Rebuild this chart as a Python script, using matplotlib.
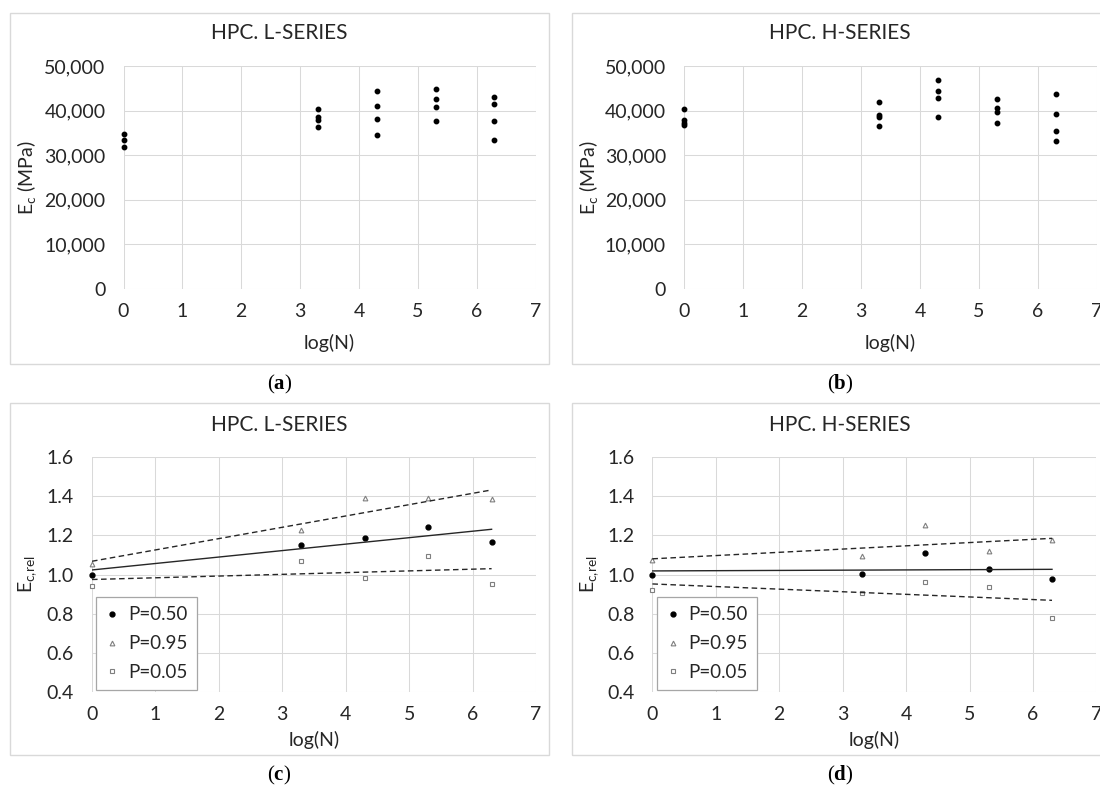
import numpy as np
import matplotlib

matplotlib.use("Agg")
import matplotlib.pyplot as plt
from matplotlib.patches import Rectangle

plt.rcParams["font.family"] = ["Lato", "DejaVu Sans"]
plt.rcParams["mathtext.fontset"] = "custom"
plt.rcParams["mathtext.bf"] = "Liberation Serif:bold"
plt.rcParams["mathtext.rm"] = "Lato"

W, H = 1100, 790

# --- data ---
# (a) absolute modulus, L-series
a_logn = [0, 0, 0, 3.3, 3.3, 3.3, 3.3, 4.3, 4.3, 4.3, 4.3,
          5.3, 5.3, 5.3, 5.3, 6.3, 6.3, 6.3, 6.3]
a_ec = [34800, 33400, 31800, 40300, 38600, 38000, 36400, 44300, 41000, 38200, 34600,
        44900, 42600, 40800, 37700, 43100, 41400, 37600, 33300]
# (b) absolute modulus, H-series
b_logn = [0, 0, 0, 0, 3.3, 3.3, 3.3, 3.3, 4.3, 4.3, 4.3, 4.3,
          5.3, 5.3, 5.3, 5.3, 6.3, 6.3, 6.3, 6.3]
b_ec = [40300, 37800, 37300, 36800, 42000, 39100, 38500, 36500, 46900, 44300, 42800, 38600,
        42600, 40600, 39600, 37300, 43700, 39300, 35500, 33200]

# (c)/(d) relative modulus per probability level
rel_logn = [0, 3.3, 4.3, 5.3, 6.3]
c_p50 = [1.00, 1.15, 1.188, 1.244, 1.167]
c_p95 = [1.056, 1.227, 1.392, 1.390, 1.383]
c_p05 = [0.940, 1.070, 0.983, 1.097, 0.951]
d_p50 = [1.00, 1.002, 1.111, 1.027, 0.976]
d_p95 = [1.073, 1.097, 1.254, 1.121, 1.174]
d_p05 = [0.923, 0.905, 0.963, 0.935, 0.778]

GRID = "#d9d9d9"
TXT = "#262626"
FS = 14


def px_rect(left, top, right, bottom):
    """Pixel box (from top-left) -> figure-fraction rect."""
    return [left / W, 1 - bottom / H, (right - left) / W, (bottom - top) / H]


def style_axes(ax, ylim, yticks, yfmt):
    ax.set_xlim(0, 7)
    ax.set_ylim(*ylim)
    ax.set_xticks(range(8))
    ax.set_yticks(yticks)
    ax.set_yticklabels([yfmt(v) for v in yticks])
    ax.grid(True, color=GRID, linewidth=0.75)
    ax.set_axisbelow(True)
    for s in ax.spines.values():
        s.set_visible(False)
    ax.tick_params(axis="both", length=0, labelsize=FS, colors=TXT)
    ax.tick_params(axis="y", pad=13)
    ax.tick_params(axis="x", pad=10)


fig = plt.figure(figsize=(W / 100, H / 100), dpi=100)

# light grey chart-area frames
for l, t, r, b in [(10, 13, 549, 364), (572, 13, 1108, 364),
                   (10, 403, 549, 755), (572, 403, 1108, 755)]:
    fig.patches.append(Rectangle((l / W, 1 - b / H), (r - l) / W, (b - t) / H,
                                 transform=fig.transFigure, fill=False,
                                 edgecolor="#d9d9d9", linewidth=1.0))

ax_a = fig.add_axes(px_rect(123.5, 66, 535.6, 289))
ax_b = fig.add_axes(px_rect(684, 66, 1097, 289))
ax_c = fig.add_axes(px_rect(92, 457, 536, 692))
ax_d = fig.add_axes(px_rect(652.4, 457, 1096.4, 692))

abs_ticks = np.arange(0, 50001, 10000)
for ax, x, y in [(ax_a, a_logn, a_ec), (ax_b, b_logn, b_ec)]:
    style_axes(ax, (0, 50000), abs_ticks, lambda v: f"{v:,.0f}")
    ax.plot(x, y, ls="none", marker="o", ms=3.2, color="black", clip_on=False)
    ax.set_ylabel(r"E$_\mathregular{c}$ (MPa)", fontsize=FS, color=TXT)
    ax.set_xlabel("log(N)", fontsize=FS, color=TXT)
ax_a.yaxis.set_label_coords((39 - 123.5) / 412, 0.5)
ax_b.yaxis.set_label_coords((601 - 684) / 413, 0.5)
ax_a.xaxis.set_label_coords(0.5, (289 - 334) / 223)
ax_b.xaxis.set_label_coords(0.5, (289 - 334) / 223)

rel_ticks = np.round(np.arange(0.4, 1.61, 0.2), 1)
x_fit = np.array([min(rel_logn), max(rel_logn)])
for ax, p50, p95, p05 in [(ax_c, c_p50, c_p95, c_p05), (ax_d, d_p50, d_p95, d_p05)]:
    style_axes(ax, (0.4, 1.6), rel_ticks, lambda v: f"{v:.1f}")
    ax.plot(rel_logn, p50, ls="none", marker="o", ms=3.5, color="black",
            label="P=0.50", clip_on=False)
    ax.plot(rel_logn, p95, ls="none", marker="^", ms=3.4, mfc="white",
            mec="#7f7f7f", mew=0.8, label="P=0.95", clip_on=False)
    ax.plot(rel_logn, p05, ls="none", marker="s", ms=3.2, mfc="white",
            mec="#7f7f7f", mew=0.8, label="P=0.05", clip_on=False)
    # linear trendlines through each probability level
    for vals, ls in [(p50, "-"), (p95, (0, (4, 2.5))), (p05, (0, (4, 2.5)))]:
        k, c0 = np.polyfit(rel_logn, vals, 1)
        ax.plot(x_fit, k * x_fit + c0, color="#262626", lw=1.0, ls=ls)
    ax.set_ylabel(r"E$_\mathregular{c{,}rel}$", fontsize=FS, color=TXT)
    ax.set_xlabel("log(N)", fontsize=FS, color=TXT)
    leg = ax.legend(loc="lower left", bbox_to_anchor=(0.010, 0.008), borderaxespad=0,
                    fontsize=13.5, frameon=True, fancybox=False, numpoints=1,
                    handlelength=0.7, handletextpad=0.5, labelspacing=0.62,
                    borderpad=0.5, labelcolor=TXT)
    leg.get_frame().set_edgecolor("#a6a6a6")
    leg.get_frame().set_linewidth(0.9)
    leg.get_frame().set_alpha(1)
ax_c.yaxis.set_label_coords((39 - 92) / 444, 0.5)
ax_d.yaxis.set_label_coords((601 - 652.4) / 444, 0.5)
ax_c.xaxis.set_label_coords(0.5, (692 - 731) / 235)
ax_d.xaxis.set_label_coords(0.5, (692 - 731) / 235)

# chart titles and panel labels
for cx, ty, ly, title, tag in [(279.5, 33, 384, "HPC. L-SERIES", "a"),
                               (840, 33, 384, "HPC. H-SERIES", "b"),
                               (279.5, 425, 775, "HPC. L-SERIES", "c"),
                               (840, 425, 775, "HPC. H-SERIES", "d")]:
    fig.text(cx / W, 1 - ty / H, title, ha="center", va="center",
             fontsize=15, color=TXT)
    fig.text(cx / W, 1 - ly / H, r"($\mathbf{" + tag + "}$)", ha="center",
             va="center", fontsize=15, family="Liberation Serif")

fig.savefig("out.png", dpi=100)
